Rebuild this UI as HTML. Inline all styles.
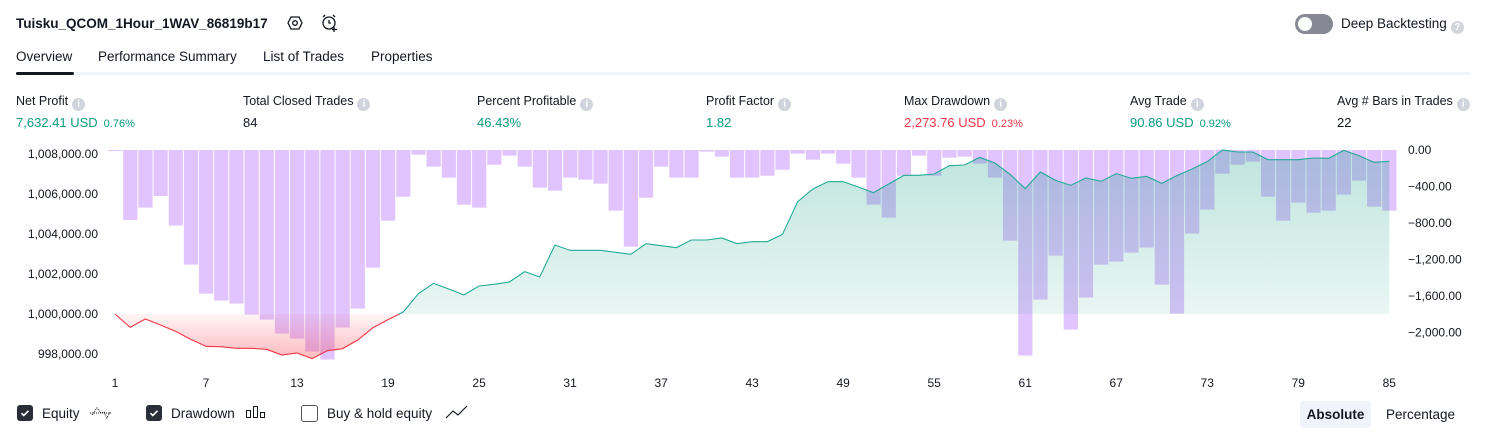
<!DOCTYPE html>
<html><head><meta charset="utf-8"><style>
body{margin:0;width:1486px;height:438px;background:#fff;font-family:"Liberation Sans",sans-serif;color:#131722;position:relative;overflow:hidden}
.a{position:absolute;white-space:nowrap}
.lbl{font-size:12.5px;color:#131722}
.val{font-size:13px}
.info{display:inline-block;width:13px;height:13px;border-radius:50%;background:#d1d4dc;color:#fff;font-size:10px;text-align:center;line-height:13px;vertical-align:-2px;margin-left:4px;font-weight:bold}
.g{color:#089981}.r{color:#f23645}
.pct{font-size:11px;margin-left:6px}
.cb{position:absolute;width:16px;height:16px;border-radius:3px;top:405px}
</style></head><body>
<div class="a" style="left:16px;top:16px;font-size:13.5px;font-weight:bold">Tuisku_QCOM_1Hour_1WAV_86819b17</div>
<svg class="a" style="left:287px;top:15px" width="16" height="16" viewBox="0 0 16 16"><polygon points="4,2 12,2 15,8 12,14 4,14 1,8" fill="none" stroke="#131722" stroke-width="1.3"/><circle cx="8" cy="8" r="2.3" fill="none" stroke="#131722" stroke-width="1.3"/></svg>
<svg class="a" style="left:321px;top:14px" width="18" height="18" viewBox="0 0 18 18"><circle cx="8" cy="9" r="6" fill="none" stroke="#131722" stroke-width="1.3"/><path d="M8 6v3h2M2 3l2-2M14 3l-2-2M13 13v5M11 15.5h5" stroke="#131722" stroke-width="1.3" fill="none"/></svg>
<div class="a" style="left:1295px;top:14px;width:38px;height:20px;border-radius:10px;background:#868993"><div style="position:absolute;left:3px;top:3px;width:14px;height:14px;border-radius:50%;background:#fff"></div></div>
<div class="a" style="left:1341px;top:16px;font-size:13.5px">Deep Backtesting<span class="info">?</span></div>
<div class="a" style="left:16px;top:49px;font-size:13.5px">Overview</div>
<div class="a" style="left:98px;top:49px;font-size:13.5px">Performance Summary</div>
<div class="a" style="left:263px;top:49px;font-size:13.5px">List of Trades</div>
<div class="a" style="left:371px;top:49px;font-size:13.5px">Properties</div>
<div class="a" style="left:16px;top:72px;width:1454px;height:3px;background:#f0f3fa"></div>
<div class="a" style="left:16px;top:72px;width:58px;height:3px;background:#131722;border-radius:2px"></div>

<div class="a" style="left:16px;top:94px"><div class="lbl">Net Profit<span class="info">i</span></div><div class="val g" style="margin-top:4px">7,632.41 USD<span class="pct">0.76%</span></div></div>
<div class="a" style="left:243px;top:94px"><div class="lbl">Total Closed Trades<span class="info">i</span></div><div class="val" style="margin-top:4px">84</div></div>
<div class="a" style="left:477px;top:94px"><div class="lbl">Percent Profitable<span class="info">i</span></div><div class="val g" style="margin-top:4px">46.43%</div></div>
<div class="a" style="left:706px;top:94px"><div class="lbl">Profit Factor<span class="info">i</span></div><div class="val g" style="margin-top:4px">1.82</div></div>
<div class="a" style="left:904px;top:94px"><div class="lbl">Max Drawdown<span class="info">i</span></div><div class="val r" style="margin-top:4px">2,273.76 USD<span class="pct">0.23%</span></div></div>
<div class="a" style="left:1130px;top:94px"><div class="lbl">Avg Trade<span class="info">i</span></div><div class="val g" style="margin-top:4px">90.86 USD<span class="pct">0.92%</span></div></div>
<div class="a" style="left:1337px;top:94px"><div class="lbl">Avg # Bars in Trades<span class="info">i</span></div><div class="val" style="margin-top:4px">22</div></div>

<svg id="chart" class="a" style="left:0;top:0" width="1486" height="395">
<defs>
<linearGradient id="gg" x1="0" y1="150" x2="0" y2="314" gradientUnits="userSpaceOnUse"><stop offset="0" stop-color="#089981" stop-opacity="0.26"/><stop offset="1" stop-color="#089981" stop-opacity="0.09"/></linearGradient>
<linearGradient id="rg" x1="0" y1="314" x2="0" y2="360" gradientUnits="userSpaceOnUse"><stop offset="0" stop-color="#f23645" stop-opacity="0.05"/><stop offset="1" stop-color="#f23645" stop-opacity="0.35"/></linearGradient>
<clipPath id="above"><rect x="0" y="0" width="1486" height="314"/></clipPath>
<clipPath id="below"><rect x="0" y="314" width="1486" height="100"/></clipPath>
</defs>
<g id="bars"></g><g id="fills"></g><g id="lines"></g><g id="axes"></g>
</svg>

<div class="cb" style="left:17px;background:#2a2e39"><svg width="16" height="16"><path d="M4.5 8.2l2.3 2.3 4.7-4.7" stroke="#fff" stroke-width="1.6" fill="none"/></svg></div>
<div class="a" style="left:42px;top:406px;font-size:13.5px">Equity</div>
<svg class="a" style="left:89px;top:404px" width="24" height="16"><path d="M1 9h22" stroke="#131722" stroke-dasharray="1 1"/><path d="M3 11l5-7 4 5 3-1 3 6 3-6" stroke="#131722" fill="none" stroke-dasharray="1 1"/></svg>
<div class="cb" style="left:146px;background:#2a2e39"><svg width="16" height="16"><path d="M4.5 8.2l2.3 2.3 4.7-4.7" stroke="#fff" stroke-width="1.6" fill="none"/></svg></div>
<div class="a" style="left:171px;top:406px;font-size:13.5px">Drawdown</div>
<svg class="a" style="left:245px;top:405px" width="22" height="14"><rect x="1.5" y="5.5" width="4" height="7" fill="none" stroke="#131722"/><rect x="8.5" y="1.5" width="4" height="11" fill="none" stroke="#131722"/><rect x="15.5" y="7.5" width="4" height="5" fill="none" stroke="#131722"/></svg>
<div class="cb" style="left:301px;border:1px solid #50535e;width:15px;height:15px"></div>
<div class="a" style="left:327px;top:406px;font-size:13.5px">Buy &amp; hold equity</div>
<svg class="a" style="left:445px;top:404px" width="24" height="16"><path d="M1 14l7-7 5 4 9-9" stroke="#131722" fill="none" stroke-width="1.2"/></svg>
<div class="a" style="left:1300px;top:401px;width:71px;height:27px;background:#f0f3fa;border-radius:4px;font-size:13.5px;font-weight:bold;text-align:center;line-height:27px">Absolute</div>
<div class="a" style="left:1386px;top:407px;font-size:13.5px">Percentage</div>

<script>
const tradeNums = Array.from({length:85},(_,i)=>i+1);
const drawdown = [-10,-767,-632,-504,-829,-1257,-1575,-1651,-1684,-1805,-1860,-2013,-2068,-2210,-2298,-1947,-1739,-1290,-775,-512,-51,-183,-303,-599,-632,-161,-62,-183,-413,-446,-303,-325,-369,-665,-1060,-523,-183,-303,-303,-18,-73,-303,-303,-282,-216,-40,-106,-40,-150,-303,-599,-742,-282,-62,-282,-84,-73,-150,-303,-994,-2254,-1640,-1158,-1969,-1618,-1257,-1224,-1125,-1070,-1476,-1794,-917,-654,-260,-161,-128,-512,-775,-577,-687,-665,-490,-336,-621,-665];
const equity = [1000000,999333,999750,999450,999133,998733,998383,998367,998283,998283,998233,997950,998050,997767,998167,998267,998700,999317,999717,1000100,1001017,1001533,1001250,1000950,1001400,1001483,1001600,1002117,1001850,1003450,1003183,1003183,1003183,1003083,1002983,1003517,1003417,1003317,1003700,1003700,1003800,1003517,1003617,1003617,1003983,1005617,1006250,1006617,1006617,1006350,1006067,1006500,1006933,1006933,1007000,1007417,1007450,1007833,1007550,1006983,1006267,1007100,1006683,1006433,1006800,1006633,1007017,1006783,1006883,1006533,1006917,1007250,1007617,1008200,1008100,1008100,1007717,1007717,1007717,1007800,1007783,1008183,1007917,1007583,1007632];
const leftTicks = [1008000,1006000,1004000,1002000,1000000,998000];
const leftTickLabels = ["1,008,000.00","1,006,000.00","1,004,000.00","1,002,000.00","1,000,000.00","998,000.00"];
const rightTicks = [0,-400,-800,-1200,-1600,-2000];
const rightTickLabels = ["0.00","\u2212400.00","\u2212800.00","\u22121,200.00","\u22121,600.00","\u22122,000.00"];
const xTicks = [1,7,13,19,25,31,37,43,49,55,61,67,73,79,85];

const NS="http://www.w3.org/2000/svg";
const xS = n => 115 + (n-1)*15.17;
const yL = v => 314 - (v-1000000)*0.02;
const yR = v => 150 - v*0.0912;
function mk(tag, attrs, parent){const e=document.createElementNS(NS,tag);for(const k in attrs)e.setAttribute(k,attrs[k]);parent.appendChild(e);return e;}
const bars=document.getElementById('bars'),fills=document.getElementById('fills'),lines=document.getElementById('lines'),axes=document.getElementById('axes');

drawdown.forEach((v,i)=>{
  const x=xS(tradeNums[i])-7;
  const r=mk('rect',{x:x,y:yR(0),width:14.2,height:Math.max(1,yR(v)-yR(0)),fill:'#e1c4fd'},bars);
  
  
});

const pts=equity.map((v,i)=>[xS(tradeNums[i]),yL(v)]);
const lp=pts.map(p=>p.join(',')).join(' ');
const base=yL(1000000);
const areaPts=lp+' '+pts[pts.length-1][0]+','+base+' '+pts[0][0]+','+base;
const ga=mk('polygon',{points:areaPts,fill:'url(#gg)','clip-path':'url(#above)'},fills);


const ra=mk('polygon',{points:areaPts,fill:'url(#rg)','clip-path':'url(#below)'},fills);


const gl=mk('polyline',{points:lp,fill:'none',stroke:'#22ab94','stroke-width':1.1,'clip-path':'url(#above)'},lines);


const rl=mk('polyline',{points:lp,fill:'none',stroke:'#f23645','stroke-width':1.1,'clip-path':'url(#below)'},lines);



leftTicks.forEach((v,i)=>{
  const t=mk('text',{x:98,y:yL(v)+4,'text-anchor':'end','font-size':12,fill:'#131722','font-family':'Liberation Sans, sans-serif'},axes);
  t.textContent=leftTickLabels[i];
  
  
});
rightTicks.forEach((v,i)=>{
  const t=mk('text',{x:1408,y:yR(v)+4,'font-size':12,fill:'#131722','font-family':'Liberation Sans, sans-serif'},axes);
  t.textContent=rightTickLabels[i];
  
  
});
xTicks.forEach(n=>{
  const t=mk('text',{x:xS(n),y:387,'text-anchor':'middle','font-size':12,fill:'#131722','font-family':'Liberation Sans, sans-serif'},axes);
  t.textContent=n;
  
  
});
</script>
</body></html>
